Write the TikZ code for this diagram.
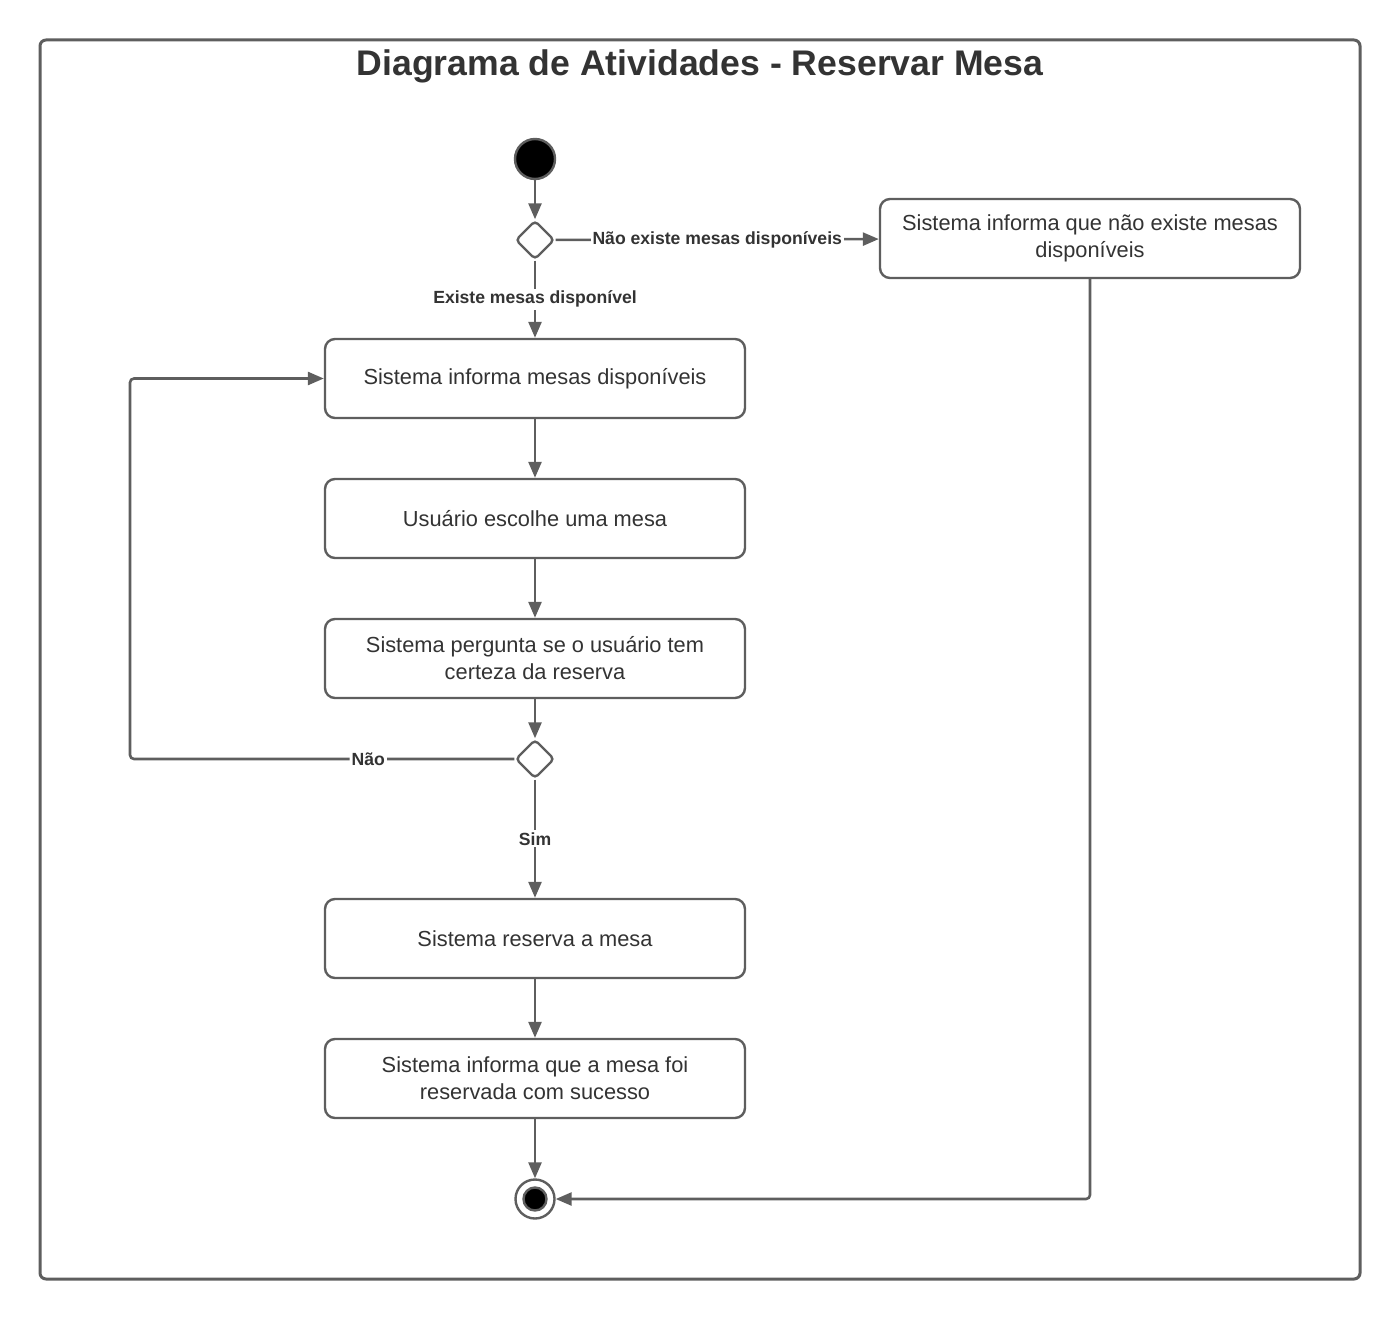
\documentclass[tikz,border=0pt]{standalone}
\usepackage{fontspec}
\setmainfont{Liberation Sans}
\usetikzlibrary{arrows.meta,shapes.geometric}

\definecolor{linha}{HTML}{5E5E5E}
\definecolor{texto}{HTML}{333333}

\tikzset{
	atividade/.style={draw=linha, line width=1.2pt, rounded corners=5pt, fill=white,
		minimum width=210pt, minimum height=39.5pt, align=center,
		inner sep=0pt, text=texto, font=\fontsize{10.9}{13.5}\selectfont},
	decisao/.style={draw=linha, line width=1.2pt, diamond, minimum size=19.5pt,
		inner sep=0pt, rounded corners=2pt, fill=white},
	fluxo/.style={draw=linha, line width=1.3pt, -{Triangle[length=8pt,width=6.5pt]}},
	rotulo/.style={fill=white, inner sep=1pt, text=texto,
		font=\bfseries\fontsize{8.8}{10}\selectfont},
}

\begin{document}
\begin{tikzpicture}[x=0.5pt, y=-0.5pt]
	\useasboundingbox (0,0) rectangle (1400,1320);
	% moldura e titulo
	\draw[linha, line width=1.5pt, rounded corners=3pt] (40,40) rectangle (1360,1279);
	\node[text=texto, font=\bfseries\fontsize{17.8}{20}\selectfont] (titulo) at (700,66) {Diagrama de Atividades - Reservar Mesa};

	% nos
	\node[circle, draw=linha, line width=1.2pt, fill=black, minimum size=20pt, inner sep=0pt] (inicio) at (535,159) {};
	\node[decisao] (d1) at (535,240) {};
	\node[atividade] (naoexiste) at (1090,238.5) {Sistema informa que não existe mesas\\disponíveis};
	\node[atividade] (informa) at (535,378.5) {Sistema informa mesas disponíveis};
	\node[atividade] (escolhe) at (535,518.5) {Usuário escolhe uma mesa};
	\node[atividade] (pergunta) at (535,658.5) {Sistema pergunta se o usuário tem\\certeza da reserva};
	\node[decisao] (d2) at (535,759) {};
	\node[atividade] (reserva) at (535,938.5) {Sistema reserva a mesa};
	\node[atividade] (sucesso) at (535,1078.5) {Sistema informa que a mesa foi\\reservada com sucesso};
	\node[circle, draw=linha, line width=1.2pt, fill=white, minimum size=19.5pt, inner sep=0pt] (fim) at (535,1199) {};
	\node[circle, draw=linha, line width=1.2pt, fill=black, minimum size=11.5pt, inner sep=0pt] (fimdentro) at (535,1199) {};
	\coordinate (volta) at (130,759);

	% fluxos
	\draw[fluxo] (inicio) -- (d1);
	\draw[fluxo] (d1) -- node[rotulo] {Não existe mesas disponíveis} (naoexiste);
	\draw[fluxo] (d1) -- node[rotulo] {Existe mesas disponível} (informa);
	\draw[fluxo] (informa) -- (escolhe);
	\draw[fluxo] (escolhe) -- (pergunta);
	\draw[fluxo] (pergunta) -- (d2);
	\draw[fluxo, rounded corners=2pt] (d2) -- node[rotulo, pos=0.38] {Não} (volta) |- (informa);
	\draw[fluxo] (d2) -- node[rotulo] {Sim} (reserva);
	\draw[fluxo] (reserva) -- (sucesso);
	\draw[fluxo] (sucesso) -- (fim);
	\draw[fluxo, rounded corners=2pt] (naoexiste) |- (fim);
\end{tikzpicture}
\end{document}
